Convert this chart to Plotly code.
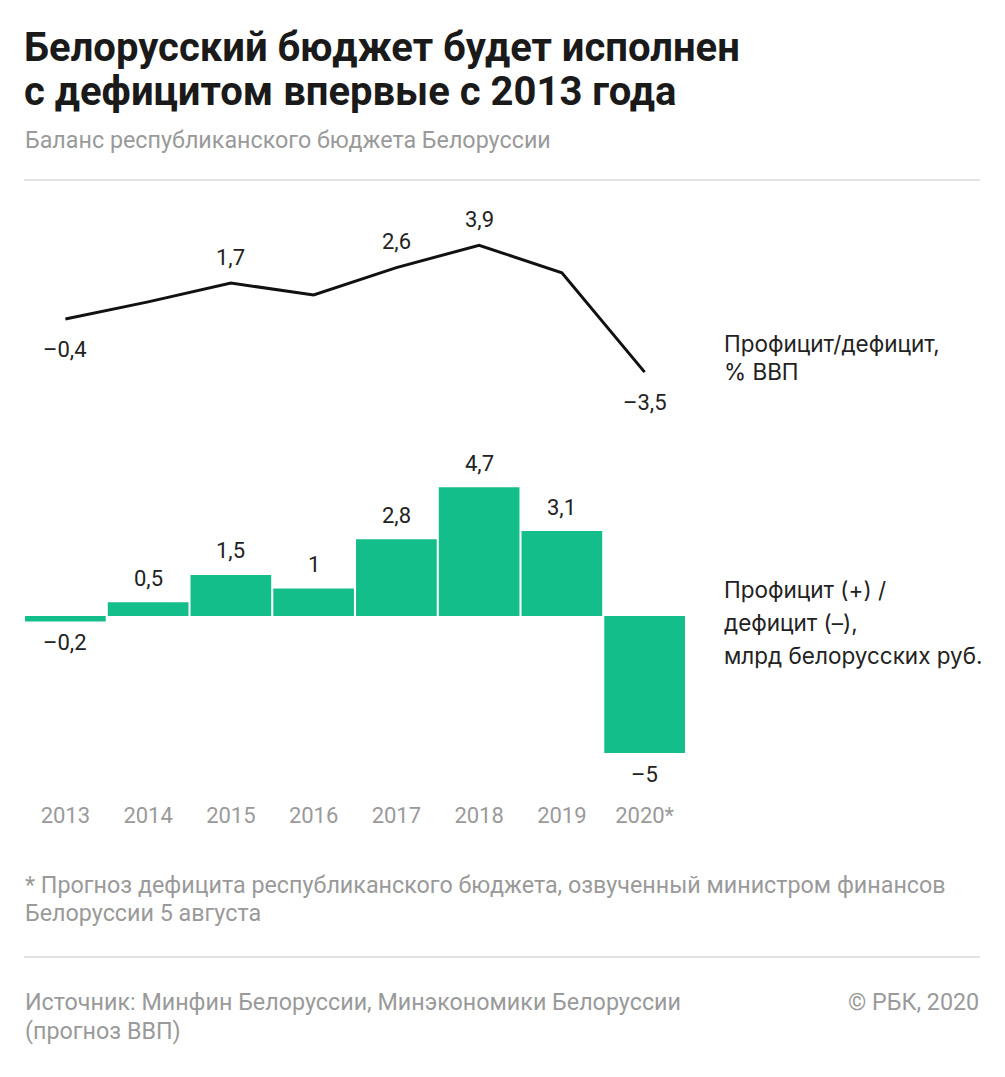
import plotly.graph_objects as go

# ---- data ----
years = ["2013", "2014", "2015", "2016", "2017", "2018", "2019", "2020*"]
gdp_pct = [-0.4, 0.6, 1.7, 1.0, 2.6, 3.9, 2.3, -3.5]
gdp_labeled = [True, False, True, False, True, True, False, True]
balance_bln = [-0.2, 0.5, 1.5, 1.0, 2.8, 4.7, 3.1, -5.0]

title_lines = ["Белорусский бюджет будет исполнен", "с дефицитом впервые с 2013 года"]
subtitle = "Баланс республиканского бюджета Белоруссии"
line_label = ["Профицит/дефицит,", "% ВВП"]
bar_label = ["Профицит (+) /", "дефицит (–),", "млрд белорусских руб."]
footnote = ["* Прогноз дефицита республиканского бюджета, озвученный министром финансов",
            "Белоруссии 5 августа"]
source = ["Источник: Минфин Белоруссии, Минэкономики Белоруссии", "(прогноз ВВП)"]
copyright_txt = "© РБК, 2020"

W, H = 1005, 1077
OFF = 8  # page body margin
GREEN = "#14BE8A"
GREY = "#9a9a9a"
FONT = "Roboto"


def py(pix):
    return 1 - (pix - OFF) / H


def px(pix):
    return (pix - OFF) / W


def fmt(v):
    s = ("%.1f" % abs(v)).rstrip("0").rstrip(".").replace(".", ",")
    return ("–" + s) if v < 0 else s


fig = go.Figure()
fig.add_trace(go.Scatter(x=years, y=gdp_pct, mode="lines",
                         line=dict(color="#111111", width=3),
                         xaxis="x", yaxis="y", hoverinfo="skip"))
fig.add_trace(go.Bar(x=years, y=balance_bln, marker=dict(color=GREEN, line=dict(width=0)),
                     xaxis="x2", yaxis="y2", hoverinfo="skip"))

ann = []
# line labels
for i, (v, lab) in enumerate(zip(gdp_pct, gdp_labeled)):
    if lab:
        ann.append(dict(x=i, y=v, xref="x", yref="y", text=fmt(v), showarrow=False,
                        yshift=(-30 if v < 0 else 26), xanchor="center", yanchor="middle",
                        font=dict(family=FONT, size=22, color="#222222")))
# bar labels
for i, v in enumerate(balance_bln):
    ann.append(dict(x=i, y=v, xref="x2", yref="y2", text=fmt(v), showarrow=False,
                    yshift=(-21 if v < 0 else 24), xanchor="center", yanchor="middle",
                    font=dict(family=FONT, size=22, color="#222222")))

# titles
for t, yc in zip(title_lines, [47, 91]):
    ann.append(dict(x=px(22), y=py(yc), xref="paper", yref="paper", text="<b>" + t + "</b>",
                    showarrow=False, xanchor="left", yanchor="middle",
                    font=dict(family=FONT, size=40, color="#1a1a1a")))
ann.append(dict(x=px(23), y=py(140), xref="paper", yref="paper", text=subtitle,
                showarrow=False, xanchor="left", yanchor="middle",
                font=dict(family=FONT, size=23.3, color=GREY)))
for t, yc in zip(line_label, [343, 372]):
    ann.append(dict(x=px(722), y=py(yc), xref="paper", yref="paper", text=t,
                    showarrow=False, xanchor="left", yanchor="middle",
                    font=dict(family="Inter", size=22.5, color="#222222")))
for t, yc in zip(bar_label, [590, 622, 655]):
    ann.append(dict(x=px(722), y=py(yc), xref="paper", yref="paper", text=t,
                    showarrow=False, xanchor="left", yanchor="middle",
                    font=dict(family="Inter", size=22.5, color="#222222")))
for t, yc in zip(footnote, [885, 913]):
    ann.append(dict(x=px(23), y=py(yc), xref="paper", yref="paper", text=t,
                    showarrow=False, xanchor="left", yanchor="middle",
                    font=dict(family=FONT, size=23.3, color=GREY)))
for t, yc in zip(source, [1002, 1031]):
    ann.append(dict(x=px(23), y=py(yc), xref="paper", yref="paper", text=t,
                    showarrow=False, xanchor="left", yanchor="middle",
                    font=dict(family=FONT, size=23.3, color=GREY)))
ann.append(dict(x=px(981), y=py(1002), xref="paper", yref="paper", text=copyright_txt,
                showarrow=False, xanchor="right", yanchor="middle",
                font=dict(family=FONT, size=23.3, color=GREY)))

shapes = [
    dict(type="line", xref="paper", yref="paper", x0=px(24), x1=px(980), y0=py(180), y1=py(180),
         line=dict(color="#e2e2e2", width=2)),
    dict(type="line", xref="paper", yref="paper", x0=px(24), x1=px(980), y0=py(957), y1=py(957),
         line=dict(color="#e2e2e2", width=2)),
]

xdom = [px(24), px(686)]
fig.update_layout(
    width=W, height=H,
    margin=dict(l=0, r=0, t=0, b=0),
    paper_bgcolor="white", plot_bgcolor="white",
    showlegend=False,
    bargap=0.025,
    annotations=ann,
    shapes=shapes,
    xaxis=dict(domain=xdom, anchor="y", type="category", range=[-0.5, 7.5],
               showticklabels=False, showgrid=False, zeroline=False, showline=False, ticks=""),
    yaxis=dict(domain=[py(420), py(200)], anchor="x", range=[-6.293, 6.543],
               showticklabels=False, showgrid=False, zeroline=False, showline=False, ticks=""),
    xaxis2=dict(domain=xdom, anchor="y2", type="category", range=[-0.5, 7.5],
                showgrid=False, zeroline=False, showline=False, ticks="",
                tickfont=dict(family=FONT, size=22, color=GREY)),
    yaxis2=dict(domain=[py(800), py(440)], anchor="x2", range=[-6.715, 6.423],
                showticklabels=False, showgrid=False, zeroline=False, showline=False, ticks=""),
)

fig.write_html("out.html")
